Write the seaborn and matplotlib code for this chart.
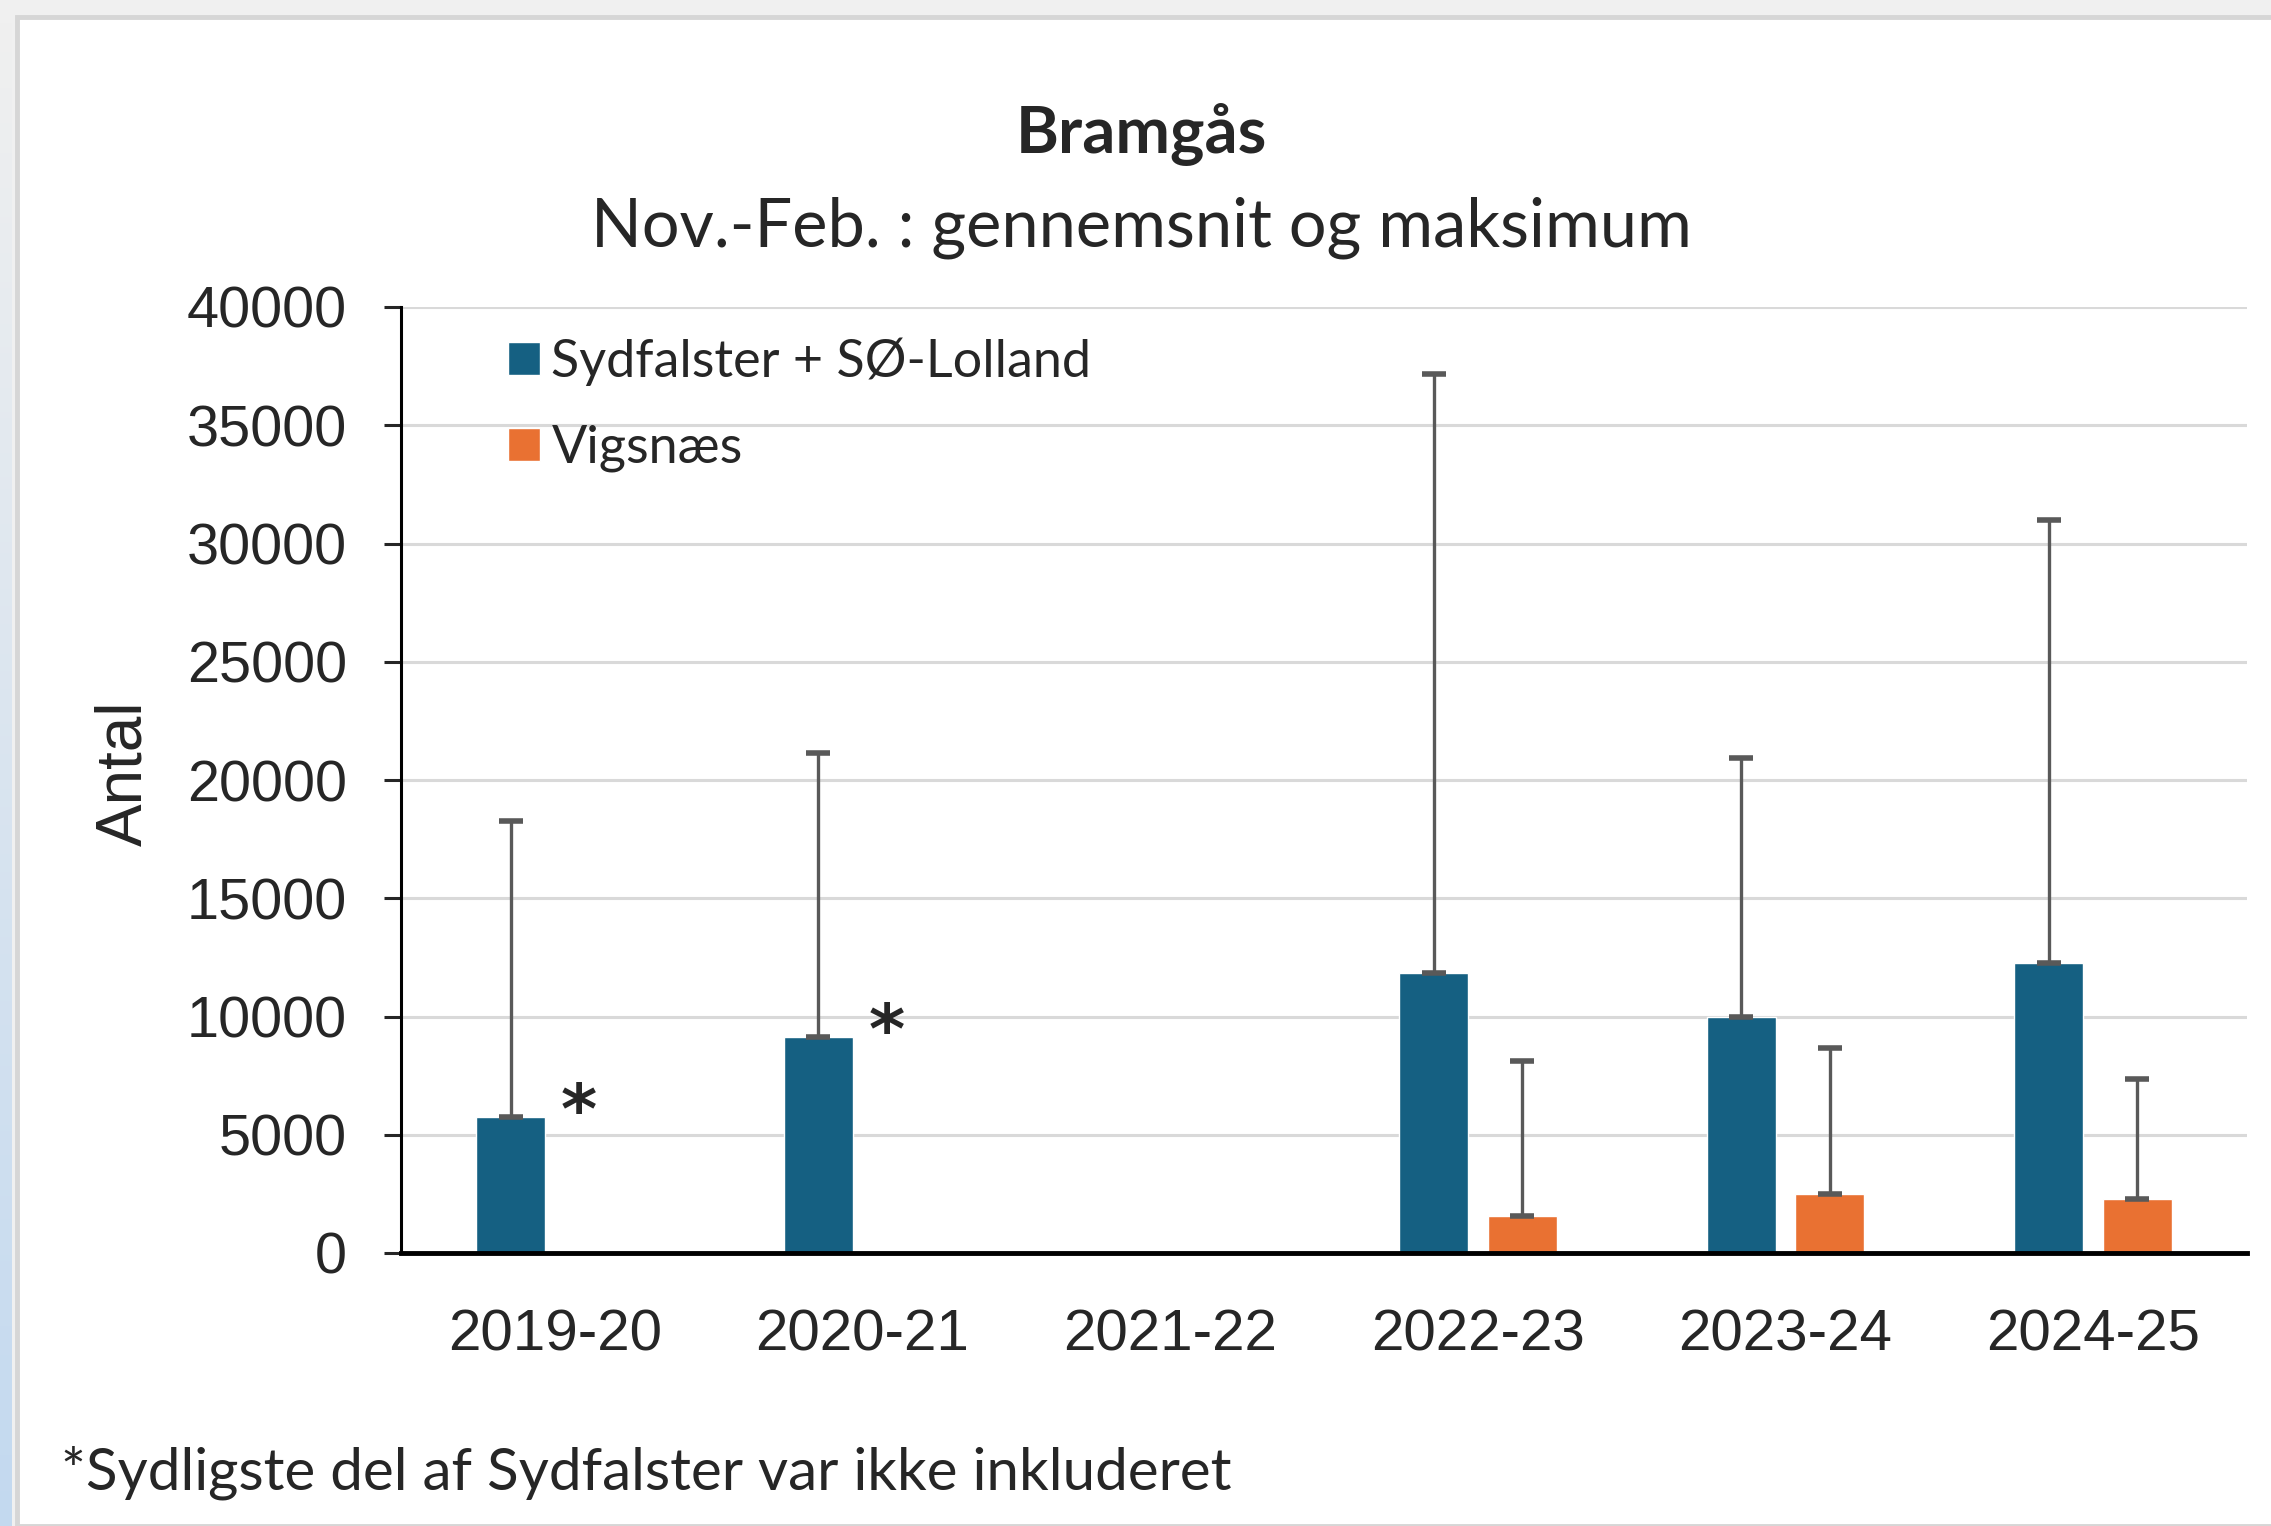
import numpy as np
import pandas as pd
import matplotlib.pyplot as plt
import seaborn as sns
from matplotlib.patches import Patch, Rectangle

# Values (mean bar + maximum as upper error bar)
seasons = ['2019-20', '2020-21', '2021-22', '2022-23', '2023-24', '2024-25']
syd_mean = [5750, 9150, np.nan, 11850, 10000, 12250]
syd_max = [18250, 21150, np.nan, 37150, 20950, 31000]
vig_mean = [np.nan, np.nan, np.nan, 1550, 2500, 2300]
vig_max = [np.nan, np.nan, np.nan, 8100, 8650, 7350]
series = ['Sydfalster + SØ-Lolland', 'Vigsnæs']
colors = ['#156082', '#E97132']
starred = ['2019-20', '2020-21']
y_ticks = [0, 5000, 10000, 15000, 20000, 25000, 30000, 35000, 40000]

rows = []
for i, s in enumerate(seasons):
    rows.append([s, series[0], syd_mean[i], syd_max[i]])
    rows.append([s, series[1], vig_mean[i], vig_max[i]])
df = pd.DataFrame(rows, columns=['season', 'series', 'mean', 'max']).dropna()

sns.set_style('white')
plt.rcParams['font.family'] = ['Liberation Sans', 'DejaVu Sans']

fig = plt.figure(figsize=(22.71, 15.26), dpi=100, facecolor='#F0F0F0')

# white panel with a light border, bluish strip on the left
fig.patches.append(Rectangle((17/2271, 0), 1, 1 - 17/1526, transform=fig.transFigure,
                             facecolor='white', edgecolor='#D6D6D6', linewidth=3.5, zorder=-2))
strip = fig.add_axes([0, 0, 12/2271, 1 - 17/1526], zorder=-1)
grad = np.linspace(0, 1, 256).reshape(-1, 1)
strip.imshow(grad, aspect='auto', cmap=sns.blend_palette(['#F0F0F0', '#C3D9EF'], as_cmap=True))
strip.axis('off')

ax = fig.add_axes([401/2271, 1 - 1253/1526, (2247 - 401)/2271, (1253 - 307)/1526])
ax.set_facecolor('none')

sns.barplot(data=df, x='season', y='mean', hue='series', order=seasons, hue_order=series,
            palette=colors, saturation=1, width=0.576, gap=0.22, errorbar=None,
            legend=False, ax=ax, zorder=2)

# maximum as one-sided error bars
for container, name in zip(ax.containers, series):
    sub = df[df['series'] == name].set_index('season')
    for bar in container:
        cx = bar.get_x() + bar.get_width() / 2
        h = bar.get_height()
        season = seasons[int(round(cx))]
        top = sub.loc[season, 'max']
        ax.errorbar(cx, h, yerr=[[0], [top - h]], fmt='none', ecolor='#595959',
                    elinewidth=2.4, capsize=8.5, capthick=4, zorder=3)
        if name == series[0] and season in starred:
            ax.text(bar.get_x() + bar.get_width() + 0.11, h + 150, '*', fontsize=50,
                    fontweight='bold', ha='center', va='center', family=['DejaVu Sans'])

ax.set_xlim(-0.5, len(seasons) - 0.5)
ax.set_ylim(0, 40000)
ax.set_yticks(y_ticks)
ax.set_yticklabels([str(t) for t in y_ticks])
ax.yaxis.grid(True, color='#D9D9D9', linewidth=2.2)
ax.set_axisbelow(True)
sns.despine(ax=ax, top=True, right=True)
ax.spines['left'].set_linewidth(2.2)
ax.spines['left'].set_color('black')
ax.spines['bottom'].set_linewidth(3.5)
ax.spines['bottom'].set_color('black')
ax.tick_params(axis='y', length=12, width=2.2, direction='out', pad=27, labelsize=41.5, left=True)
ax.tick_params(axis='x', length=0, pad=40, labelsize=42)
ax.set_xlabel('')
ax.set_ylabel('')

handles = [Patch(facecolor=c, label=l) for c, l in zip(colors, series)]
ax.legend(handles=handles, loc='upper left', bbox_to_anchor=(0.0465, 0.99), frameon=False,
          handlelength=0.62, handleheight=0.62, handletextpad=0.22, labelspacing=0.75,
          borderaxespad=0, prop={'family': 'Lato', 'size': 37.5})

fig.text(0.5025, 0.9118, 'Bramgås', ha='center', va='center', fontsize=47,
         fontweight='bold', family=['Lato', 'DejaVu Sans'])
fig.text(0.5025, 0.851, 'Nov.-Feb. : gennemsnit og maksimum', ha='center', va='center',
         fontsize=48, family=['Lato', 'DejaVu Sans'])
fig.text(0.0548, 0.4934, 'Antal', ha='center', va='center', rotation=90, fontsize=46)
fig.text(0.0268, 0.0351, '*Sydligste del af Sydfalster var ikke inkluderet', ha='left',
         va='center', fontsize=42, family=['Lato', 'DejaVu Sans'])

plt.savefig('out.png', dpi=100, facecolor=fig.get_facecolor())
